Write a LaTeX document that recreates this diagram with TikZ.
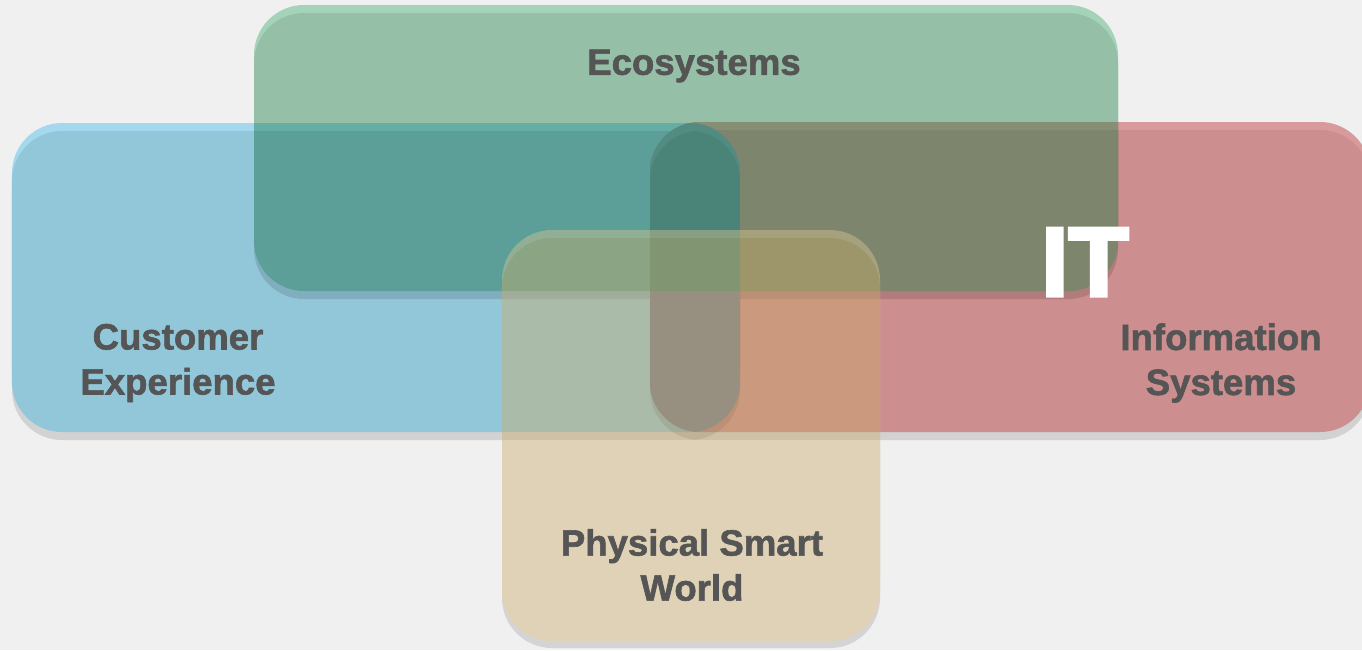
\documentclass[tikz,border=0pt]{standalone}
\usepackage{fontspec}
\setmainfont{Liberation Sans}[BoldFeatures={FakeBold=1.6}]
\newfontfamily\itfont{Liberation Sans Bold}[FakeBold=3.5]

\definecolor{bgcol}{RGB}{240,240,240}
\definecolor{bluemain}{RGB}{156,212,232}
\definecolor{bluelight}{RGB}{175,230,253}
\definecolor{greenmain}{RGB}{159,205,178}
\definecolor{greenlight}{RGB}{176,225,197}
\definecolor{redmain}{RGB}{217,151,151}
\definecolor{redlight}{RGB}{230,164,164}
\definecolor{boxshadow}{RGB}{224,224,224}
\definecolor{tanmain}{RGB}{202,172,107}
\definecolor{tanlight}{RGB}{217,198,147}
\definecolor{tanshadow}{RGB}{177,177,177}
\definecolor{olivemix}{RGB}{125,134,108}
\definecolor{olivelight}{RGB}{134,142,116}
\definecolor{pillgray}{RGB}{114,123,144}
\definecolor{pillteal}{RGB}{74,132,120}
\definecolor{pilllight}{RGB}{82,140,128}
\definecolor{labelgray}{RGB}{85,85,85}

\tikzset{
  panel/.style={rounded corners=0.5cm},
  label/.style={font=\bfseries\fontsize{10.4}{12.8}\selectfont, text=labelgray, align=center, inner sep=0pt},
}

\begin{document}
\begin{tikzpicture}[x=0.01cm,y=-0.01cm]
    \useasboundingbox (0,0) rectangle (1362,650);
    \fill[bgcol] (0,0) rectangle (1362,650);

    % customer experience
    \begin{scope}[blend mode=multiply]
    \begin{scope}[transparency group]
    \fill[boxshadow,panel] (12,139) rectangle (740,440);
    \fill[bluelight,panel] (12,123) rectangle (740,424);
    \fill[bluemain,panel] (12,131) rectangle (740,432);
    \end{scope}
    \end{scope}

    % information systems
    \begin{scope}[blend mode=multiply]
    \begin{scope}[transparency group]
    \fill[boxshadow,panel] (650,138) rectangle (1370,440);
    \fill[redlight,panel] (650,122) rectangle (1370,424);
    \fill[redmain,panel] (650,130) rectangle (1370,432);
    \end{scope}
    \end{scope}

    % ecosystems
    \begin{scope}[blend mode=multiply]
    \begin{scope}[transparency group]
    \fill[boxshadow,panel] (254,21) rectangle (1118,299);
    \fill[greenlight,panel] (254,5) rectangle (1118,283);
    \fill[greenmain,panel] (254,13) rectangle (1118,291);
    \end{scope}
    \end{scope}

    % overlaps
    \begin{scope}
    \clip[panel] (254,13) rectangle (1118,291);
    \clip[panel] (650,122) rectangle (1370,432);
    \fill[olivelight] (650,122) rectangle (1118,291);
    \fill[olivemix,panel] (650,130) rectangle (1370,432);
    \end{scope}
    \begin{scope}
    \clip[panel] (12,123) rectangle (740,432);
    \clip[panel] (650,122) rectangle (1370,432);
    \fill[pillgray] (650,122) rectangle (740,432);
    \begin{scope}
    \clip[panel] (254,13) rectangle (1118,291);
    \fill[pilllight] (650,122) rectangle (740,291);
    \fill[pillteal,panel] (650,131) rectangle (740,432);
    \end{scope}
    \end{scope}

    % physical smart world
    \begin{scope}[opacity=0.43]
    \begin{scope}[transparency group]
    \fill[tanshadow,panel] (502,246) rectangle (880,648);
    \fill[tanlight,panel] (502,230) rectangle (880,633);
    \fill[tanmain,panel] (502,238) rectangle (880,641);
    \end{scope}
    \end{scope}

    \node[label] (eco) at (694,66) {Ecosystems};
    \node[label] (cust) at (178,363) {Customer\\Experience};
    \node[label] (info) at (1221,363) {Information\\Systems};
    \node[label] (phys) at (692,565) {Physical Smart\\World};
    \node[font=\itfont\fontsize{28}{28}\selectfont, text=white, anchor=base, inner sep=0pt] (it) at (1085,296) {IT};
\end{tikzpicture}
\end{document}
